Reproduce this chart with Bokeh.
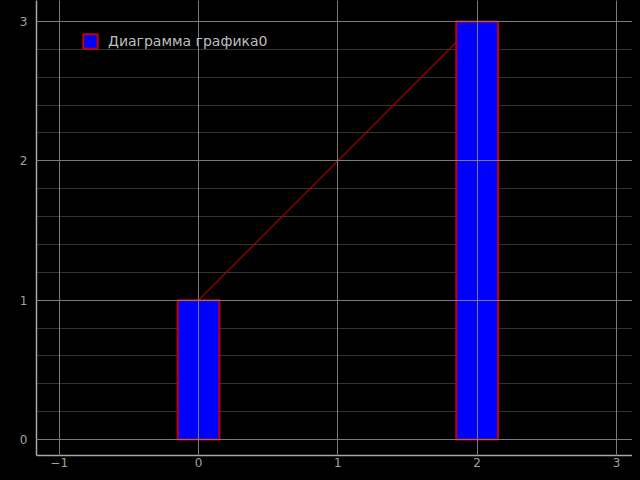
from bokeh.plotting import figure
from bokeh.models import Range1d, Legend, LegendItem, FixedTicker, Grid
from bokeh.embed import file_html
from bokeh.resources import INLINE

categories = [0, 2]
values = [1, 3]
series_name = "Диаграмма графика0"
x_ticks = [-1, 0, 1, 2, 3]
y_ticks = [0, 1, 2, 3]
y_minor_ticks = [i * 0.2 for i in range(0, 16)]

p = figure(width=632, height=472, output_backend="svg", toolbar_location=None,
           x_range=Range1d(-1.163, 3.115), y_range=Range1d(-0.115, 3.151),
           min_border_left=36, min_border_right=0, min_border_top=0, min_border_bottom=17)
p.background_fill_color = "#000000"
p.border_fill_color = "#000000"
p.outline_line_color = None

p.line(categories, values, line_color="#a00000", line_width=1.3)
bars = p.vbar(x=categories, top=values, width=0.3, bottom=0,
              fill_color="#0000ff", line_color="#c80000", line_width=2)

for ax in (p.xaxis[0], p.yaxis[0]):
    ax.axis_line_color = "#a8a8a8"
    ax.axis_line_width = 1.5
    ax.major_tick_out = 0
    ax.major_tick_in = 0
    ax.minor_tick_out = 0
    ax.minor_tick_in = 0
    ax.major_label_text_color = "#a0a0a0"
    ax.major_label_text_font = "DejaVu Sans"
    ax.major_label_text_font_size = "12px"
p.xaxis[0].ticker = FixedTicker(ticks=x_ticks)
p.yaxis[0].ticker = FixedTicker(ticks=y_ticks, minor_ticks=y_minor_ticks)
p.xaxis[0].major_label_standoff = 2
p.yaxis[0].major_label_standoff = 9

# major grid over bars
p.xgrid[0].grid_line_color = "#7a7a7a"
p.xgrid[0].level = "overlay"
p.ygrid[0].grid_line_color = "#7a7a7a"
p.ygrid[0].minor_grid_line_color = None
p.ygrid[0].level = "overlay"
# minor grid under bars
minor = Grid(dimension=1, ticker=FixedTicker(ticks=y_ticks, minor_ticks=y_minor_ticks),
             grid_line_color=None, minor_grid_line_color="#333333", level="underlay")
p.add_layout(minor)

legend = Legend(items=[LegendItem(label=series_name, renderers=[bars])],
                location=(45, 405), padding=0, margin=0, spacing=0,
                glyph_width=18, glyph_height=18, label_standoff=9,
                label_text_color="#bebebe", label_text_font="DejaVu Sans",
                label_text_font_size="14px",
                border_line_color=None, background_fill_alpha=0)
p.add_layout(legend, "center")

html = file_html(p, INLINE)
html = html.replace("</head>", "<style>html, body { background-color: #000000; }</style></head>", 1)
open("out.html", "w").write(html)
